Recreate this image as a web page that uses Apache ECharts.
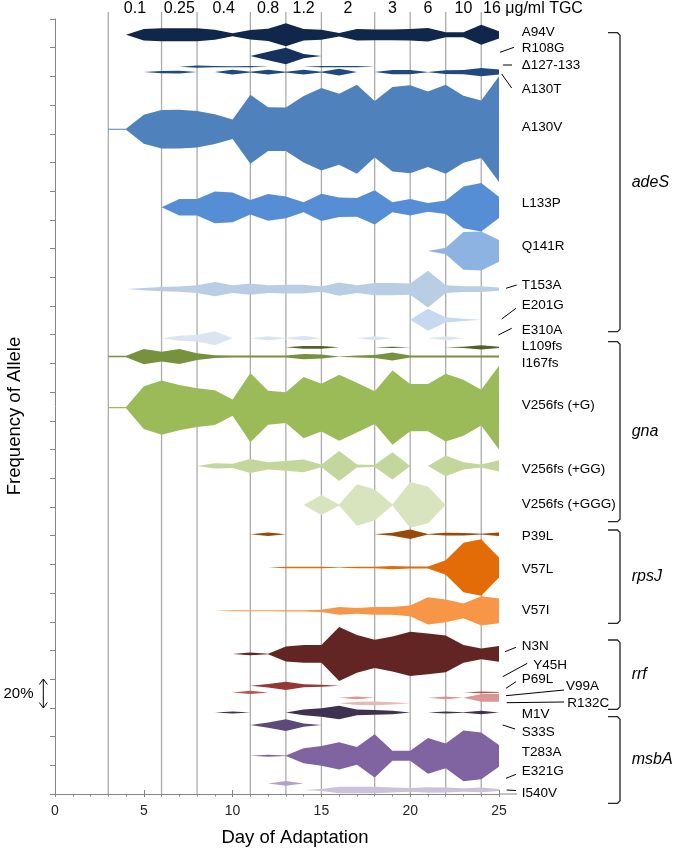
<!DOCTYPE html>
<html>
<head>
<meta charset="utf-8">
<script src="https://cdn.jsdelivr.net/npm/echarts@6/dist/echarts.min.js"></script>
<style>html,body{margin:0;padding:0;background:#fff}#c{width:674px;height:849px}</style>
</head>
<body>
<div id="c"></div>
<script>
// ---------- DATA ----------
// sampling days (day of adaptation)
const days = [3,4,5,6,7,8,9,10,11,12,13,14,15,16,17,18,19,20,21,22,23,24,25];
// TGC concentration steps: day at which each step begins, and its label (ug/ml)
const concDays   = [3, 6, 8, 11, 13, 15, 18, 20, 22, 24];
const concLabels = ['0.1','0.25','0.4','0.8','1.2','2','3','6','10','16'];

// allele frequencies (%) per sampling day, days 3..25
const A94V    = [0,0,8,9,9,9,7,2,6.5,8.5,16,8,7,2.5,8,7.5,7.5,8,9.5,3.5,3.5,14,5];
const R108G   = [0,0,0,0,0,0,0,0,0,6,11.5,3,0,0,0,0,0,0,0,0,0,0,0];
const D127_133= [0,0,0,0,0,1.5,1,0.7,1,0,0,0,1,1,1,0,0,0,0,0,0,0,0];
const A130T   = [0,0,0,1.7,2,0,0,3.3,0.5,3.3,0.5,3.3,0.5,4.7,0,0,3,3,0.3,2.5,3,5.8,3.5];
const A130V   = [0.7,0.7,20.2,26.7,27,25.5,20.7,13.7,48.1,30.5,30.2,46.2,57.4,49.5,62,39.5,58.8,61.3,52.7,62,46.7,40.1,73.7];
const L133P   = [0,0,0,0,11.6,11.6,22.1,20.7,10,18.6,15.1,7,19,13.5,13,23.9,7,11.6,6.1,9.3,29.1,33.7,14.8];
const Q141R   = [0,0,0,0,0,0,0,0,0,0,0,0,0,0,0,0,0,0,0,4.6,26.3,27.2,15.1];
const T153A   = [0,0,1.7,3.1,3.8,5.4,9.8,5.4,7.7,5.4,6.1,6.1,3.7,9.3,5.4,8.4,8.4,7.7,25.6,5.4,4,4,2.3];
const E201G   = [0,0,0,0,0,0,0,0,0,0,0,0,0,0,0,0,0,0,15.3,3.7,1.6,0,0];
const E310A   = [0,0,0,0,3.5,4.5,9.8,0,0,2.8,0.3,3.3,0,0,0,2.8,0,0,0,2.8,0,0,0];
const L109fs  = [0,0,0,0,0,0,0,0,0,0,0,1.8,1.8,0,0,0,1,0,0,0,1,2.8,1];
const I167fs  = [1,1,10.7,6.8,10.5,4.7,1.9,1.4,1.4,1.4,1.4,3.7,2.8,0.2,1.4,2,5.6,1.4,1.4,1.4,1.4,1.4,1.4];
const V256fsG = [1,1,29.8,37.8,31.4,27,24.2,11.2,48.3,23.7,21.4,42.7,33.2,46,34.8,22.8,51.6,33,32.8,47.2,39,24.9,58.3];
const V256fsGG= [0,0,0,0,0,0,3.7,3,9.8,5.1,6.8,8.9,1.9,20.9,2.1,1.4,19,0,0,14.4,5.1,2.1,7.9];
const V256fsGGG=[0,0,0,0,0,0,0,0,0,0,0,0,13.9,0.7,29,21.8,0.7,31.9,25.6,0,0,0,0];
const P39L    = [0,0,0,0,0,0,0,0,0,2.3,0,0,0,0,0,0,2.1,6.5,0.4,1.9,1.7,0.5,2.3];
const V57L    = [0,0,0,0,0,0,0,0,0,0,1,1,1,0.3,1,1,2.3,1.4,1.4,10,34.6,39.5,13.9];
const V57I    = [0,0,0,0,0,0,0,0.7,0.7,0.7,0.9,0.9,1.4,5.4,4,5.4,5.4,7.5,19,15.8,10.2,20.4,17.4];
const N3N     = [0,0,0,0,0,0,0,0,1.9,0.3,10.5,12.3,12.3,37.6,26.3,19.7,24.4,30.9,28.4,25.6,12.3,7.5,10.9];
const Y45H    = [0,0,0,0,0,0,0,0,0,2.5,5.8,2,1.5,0,0,0,0,0,0,0,0,0,0];
const P69L    = [0,0,0,0,0,0,0,0,2.3,0,0,0,0,0,0,0,0,0,0,0,0,1.2,0.5];
const V99A    = [0,0,0,0,0,0,0,0,0,0,0,0,0,0,1.9,0,0,0,0,1.9,0,5.4,5.4];
const R132C   = [0,0,0,0,0,0,0,0,0,0,0,0,0,0,2.3,2.6,1.6,0,0,0,0,0,0];
const M1V     = [0,0,0,0,0,0,0,1.4,0,0,0,4,5.8,9.3,4,3.3,2.3,0,0,1.4,0.2,2.3,0];
const S33S    = [0,0,0,0,0,0,0,0,0,3.7,8.1,2.3,0,0,0,0,0,0,0,0,0,0,0];
const T283A   = [0,0,0,0,0,0,0,0,0,1.4,0.3,10.5,13.7,19,12.3,30.2,7,7,24.9,17.2,35.3,32.5,15.1];
const E321G   = [0,0,0,0,0,0,0,0,0,0,3.3,0,0,0,0,0,0,0,0,0,0,0,0];
const I540V   = [0,0,0,0,0,0,0,0,0,0,0,0,1.5,4.6,4.6,4.6,3.5,2.6,3.7,3.5,2.3,3.3,1.4];

// ---------- LAYOUT / STYLE ----------
// lane centre of each allele, in y-axis units (1 unit = 20 % frequency)
const alleles = [
  {name:'A94V',  values:A94V,     lane:26.45, color:'#10264a'},
  {name:'R108G', values:R108G,    lane:25.71, color:'#15315e'},
  {name:'Δ127-133', values:D127_133, lane:25.34, color:'#1f4a80'},
  {name:'A130T', values:A130T,    lane:25.15, color:'#1f4a80'},
  {name:'A130V', values:A130V,    lane:23.16, color:'#4f81bd'},
  {name:'L133P', values:L133P,    lane:20.44, color:'#558ed5'},
  {name:'Q141R', values:Q141R,    lane:18.92, color:'#8db3e2'},
  {name:'T153A', values:T153A,    lane:17.59, color:'#b9cde5'},
  {name:'E201G', values:E201G,    lane:16.52, color:'#c6d9f1'},
  {name:'E310A', values:E310A,    lane:15.88, color:'#dbe5f1'},
  {name:'L109fs', values:L109fs,  lane:15.56, color:'#4f6228'},
  {name:'I167fs', values:I167fs,  lane:15.24, color:'#76923c'},
  {name:'V256fs (+G)', values:V256fsG, lane:13.46, color:'#9bbb59'},
  {name:'V256fs (+GG)', values:V256fsGG, lane:11.43, color:'#c3d69b'},
  {name:'V256fs (+GGG)', values:V256fsGGG, lane:10.07, color:'#d7e4bd'},
  {name:'P39L',  values:P39L,     lane:9.05,  color:'#984807'},
  {name:'V57L',  values:V57L,     lane:7.89,  color:'#e36c09'},
  {name:'V57I',  values:V57I,     lane:6.38,  color:'#f79646'},
  {name:'N3N',   values:N3N,      lane:4.88,  color:'#632523'},
  {name:'Y45H',  values:Y45H,     lane:3.77,  color:'#953735'},
  {name:'P69L',  values:P69L,     lane:3.54,  color:'#c0504d'},
  {name:'V99A',  values:V99A,     lane:3.35,  color:'#d99694'},
  {name:'R132C', values:R132C,    lane:3.16,  color:'#e6b9b8'},
  {name:'M1V',   values:M1V,      lane:2.84,  color:'#3f3151'},
  {name:'S33S',  values:S33S,     lane:2.40,  color:'#5f497a'},
  {name:'T283A', values:T283A,    lane:1.33,  color:'#8064a2'},
  {name:'E321G', values:E321G,    lane:0.37,  color:'#b3a2c7'},
  {name:'I540V', values:I540V,    lane:0.14,  color:'#ccc1da'}
];

const FONT = "'Liberation Sans', Arial, Helvetica, sans-serif";
const AXIS_COLOR = '#868686';

// right-hand labels: [text, x, y, leader line or null]
const rightLabels = [
  ['A94V',521.7,32.7,null],
  ['R108G',521.7,48.7,[500,52.3,514,47.3]],
  ['Δ127-133',521.7,65,[503,65,512,65]],
  ['A130T',521.7,89.3,[501.7,74,511.7,88]],
  ['A130V',521.7,127.3,null],
  ['L133P',521.7,203.3,null],
  ['Q141R',521.7,246,null],
  ['T153A',521.7,285,[506,288.3,516.7,285]],
  ['E201G',521.7,305.7,[501.7,319,516,308.3]],
  ['E310A',521.7,330,[498.3,335,511.7,328.3]],
  ['L109fs',521.7,346.7,null],
  ['I167fs',521.7,363.3,null],
  ['V256fs (+G)',521.7,405,null],
  ['V256fs (+GG)',521.7,469,null],
  ['V256fs (+GGG)',521.7,504,null],
  ['P39L',521.7,536.7,null],
  ['V57L',521.7,569.3,null],
  ['V57I',521.7,610.7,null],
  ['N3N',521.7,646.7,[505,651.7,516,647.3]],
  ['Y45H',533.3,665,[502.7,676.7,527.3,663.3]],
  ['P69L',521.7,679.3,[506,688.3,516,681.7]],
  ['V99A',566,686.7,[506,695.7,564,690]],
  ['R132C',567.3,703.3,[506.7,702.7,564,702]],
  ['M1V',521.7,714,null],
  ['S33S',521.7,732.3,[502.7,725,515,729]],
  ['T283A',521.7,752.3,null],
  ['E321G',521.7,771.7,[506,778.3,516,774.3]],
  ['I540V',521.7,793.3,[506.7,790,516,790.5]]
];
// gene brackets: [gene, yTop, yBottom]
const genes = [
  ['adeS',32.7,331.7],
  ['gna',341.7,521.7],
  ['rpsJ',530,623.3],
  ['rrf',640,709.3],
  ['msbA',716.7,803.3]
];

// ---------- GRAPHICS ----------
const graphics = [];
rightLabels.forEach(l => {
  graphics.push({type:'text', x:l[1], y:l[2], silent:true,
    style:{text:l[0], fill:'#000', font:'13.5px '+FONT, fontSize:13.5, fontFamily:FONT,
      align:'left', verticalAlign:'middle', textAlign:'left', textVerticalAlign:'middle'}});
  if (l[3]) {
    graphics.push({type:'line', silent:true,
      shape:{x1:l[3][0], y1:l[3][1], x2:l[3][2], y2:l[3][3]},
      style:{stroke:'#000', lineWidth:1}});
  }
});
genes.forEach(g => {
  const t = g[1], b = g[2];
  graphics.push({type:'polyline', silent:true,
    shape:{points:[[608,t],[617.5,t],[620,t+2.5],[620,b-2.5],[617.5,b],[608,b]]},
    style:{stroke:'#262626', lineWidth:1.3, fill:null}});
  graphics.push({type:'text', x:631.7, y:(t+b)/2, silent:true,
    style:{text:g[0], fill:'#000', font:'italic 16px '+FONT, fontStyle:'italic', fontSize:16, fontFamily:FONT,
      align:'left', verticalAlign:'middle', textAlign:'left', textVerticalAlign:'middle'}});
});
// 20 % scale arrow
graphics.push({type:'text', x:33.5, y:693.5, silent:true,
  style:{text:'20%', fill:'#000', font:'15px '+FONT, fontSize:15, fontFamily:FONT,
    align:'right', verticalAlign:'middle', textAlign:'right', textVerticalAlign:'middle'}});
graphics.push({type:'line', silent:true, shape:{x1:43.3,y1:679,x2:43.3,y2:708}, style:{stroke:'#000', lineWidth:1}});
graphics.push({type:'polyline', silent:true, shape:{points:[[39.3,684.5],[43.3,679],[47.3,684.5]]}, style:{stroke:'#000', lineWidth:1, fill:null}});
graphics.push({type:'polyline', silent:true, shape:{points:[[39.3,702.5],[43.3,708],[47.3,702.5]]}, style:{stroke:'#000', lineWidth:1, fill:null}});
// axis titles
graphics.push({type:'text', x:295, y:837.5, silent:true,
  style:{text:'Day of Adaptation', fill:'#000', font:'18.5px '+FONT, fontSize:18.5, fontFamily:FONT,
    align:'center', verticalAlign:'middle', textAlign:'center', textVerticalAlign:'middle'}});
graphics.push({type:'text', x:15, y:416, rotation:Math.PI/2, silent:true,
  style:{text:'Frequency of Allele', fill:'#000', font:'18.5px '+FONT, fontSize:18.5, fontFamily:FONT,
    align:'center', verticalAlign:'middle', textAlign:'center', textVerticalAlign:'middle'}});
// x axis line extension beyond day 25
graphics.push({type:'line', silent:true, shape:{x1:499,y1:794,x2:517,y2:794}, style:{stroke:AXIS_COLOR, lineWidth:1}});

// ---------- CHART ----------
const chart = echarts.init(document.getElementById('c'), null, {renderer:'canvas'});
const YMAX = 27;

const option = {
  animation:false,
  backgroundColor:'#fff',
  grid:{left:55, right:175, top:19, bottom:55},
  xAxis:[{
    type:'value', min:0, max:25, interval:5,
    axisLine:{show:true, lineStyle:{color:AXIS_COLOR, width:1}},
    axisTick:{show:true, length:3, lineStyle:{color:AXIS_COLOR}},
    minorTick:{show:true, splitNumber:5, length:2.5, lineStyle:{color:AXIS_COLOR}},
    axisLabel:{color:'#262626', fontSize:14, fontFamily:FONT, margin:10},
    splitLine:{show:false}
  },{
    type:'value', min:0, max:25, interval:5, position:'bottom', gridIndex:0,
    axisLine:{show:false},
    axisTick:{show:true, inside:true, length:4, lineStyle:{color:AXIS_COLOR}},
    axisLabel:{show:false}, splitLine:{show:false}
  }],
  yAxis:{
    type:'value', min:0, max:YMAX, interval:1,
    axisLine:{show:true, lineStyle:{color:AXIS_COLOR, width:1}},
    axisTick:{show:true, length:5, lineStyle:{color:AXIS_COLOR}},
    axisLabel:{show:false},
    splitLine:{show:false}
  },
  graphic:{elements:graphics},
  series:[
    { // concentration change lines
      type:'custom', clip:false, silent:true, z:1,
      data: concDays.map(d => [d]),
      renderItem: function(params, api){
        const d = concDays[params.dataIndex];
        const p0 = api.coord([d, 0]);
        const p1 = api.coord([d, YMAX]);
        return {type:'line', shape:{x1:p0[0], y1:p0[1], x2:p0[0], y2:p1[1]-7},
          style:{stroke:'#ababab', lineWidth:1.3}};
      }
    },
    { // concentration labels
      type:'custom', clip:false, silent:true, z:3,
      data: concLabels.map((t,i) => [i]),
      renderItem: function(params, api){
        const i = params.dataIndex;
        const last = i === concLabels.length - 1;
        const d = last ? concDays[i] + 0.1 : (concDays[i] + concDays[i+1]) / 2;
        const p = api.coord([d, YMAX]);
        return {type:'text', x:p[0], y:p[1]-10,
          style:{text: concLabels[i] + (last ? ' μg/ml TGC' : ''), fill:'#000',
            font:'16px '+FONT, fontSize:16, fontFamily:FONT,
            align: last ? 'left' : 'center', textAlign: last ? 'left' : 'center',
            verticalAlign:'middle', textVerticalAlign:'middle'}};
      }
    },
    { // allele frequency shapes
      type:'custom', clip:false, silent:true, z:2,
      data: alleles.map((a,i) => [i]),
      renderItem: function(params, api){
        const a = alleles[params.dataIndex];
        const top = [], bot = [];
        for (let i = 0; i < days.length; i++) {
          const h = a.values[i] / 40; // half width in axis units (20 % per unit)
          top.push(api.coord([days[i], a.lane + h]));
          bot.push(api.coord([days[i], a.lane - h]));
        }
        return {type:'polygon', shape:{points: top.concat(bot.reverse())},
          style:{fill:a.color}};
      }
    }
  ]
};
chart.setOption(option);
</script>
</body>
</html>
